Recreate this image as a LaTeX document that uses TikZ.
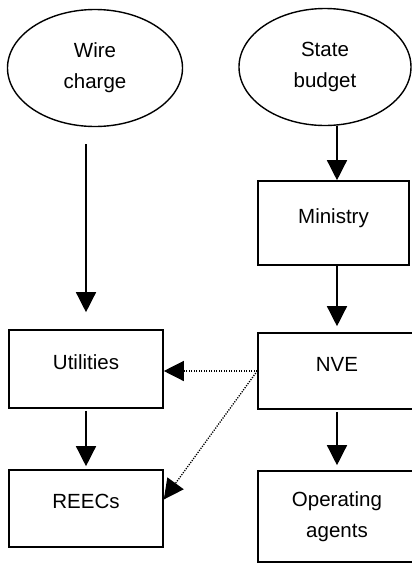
\documentclass[tikz,border=0pt]{standalone}
\usepackage{fontspec}
\setmainfont{Liberation Sans}
\usetikzlibrary{arrows.meta}
\usetikzlibrary{shapes.geometric}

\begin{document}
\begin{tikzpicture}[x=1pt, y=-1pt,
  blob/.style={ellipse, draw, line width=1.4pt, inner sep=0, align=center},
  box/.style={rectangle, draw, line width=1.6pt, fill=white, inner sep=0, minimum width=154pt},
  oneline/.style={text height=15pt, text depth=15pt},
  arr/.style={line width=1.4pt, -{Triangle[length=20pt, width=20pt]}},
  dots/.style={line width=1.3pt, dash pattern=on 1.2pt off 1.3pt, -{Triangle[length=20pt, width=20pt]}}]
\clip (0,0) rectangle (412,563);
\fontsize{20.5}{31}\selectfont
% sources
\node[blob, minimum width=175pt, minimum height=117pt] (wire) at (95,68) {Wire\\charge};
\node[blob, minimum width=172pt, minimum height=117pt] (budget) at (325,67) {State\\budget};
% boxes
\node[box, oneline, minimum width=151pt, minimum height=84pt] (ministry) at (333.5,223) {Ministry};
\node[box, oneline, minimum width=158pt, minimum height=76pt] (nve) at (337,371) {NVE};
\node[box, oneline, minimum height=78pt] (util) at (86,369) {Utilities};
\node[box, oneline, minimum height=77pt] (reecs) at (86,508.5) {REECs};
\node[box, align=center, minimum width=158pt, minimum height=91pt] (agents) at (337,516.5) {Operating\\agents};
% flows
\draw[arr] ([yshift=-17pt]util.north |- wire.south) -- ([yshift=17pt]util.north);
\draw[arr] (nve.north |- budget.south) -- (nve.north |- ministry.north);
\draw[arr] (nve.north |- ministry.south) -- ([yshift=6pt]nve.north);
\draw[arr] ([yshift=-2pt]util.south) -- ([yshift=3pt]reecs.north);
\draw[arr] ([yshift=-2pt]nve.south) -- ([yshift=5pt]agents.north);
\draw[dots] (nve.west) -- (util.east |- nve.west);
\draw[dots] (nve.west) -- ([yshift=9pt]reecs.east);
\end{tikzpicture}
\end{document}
